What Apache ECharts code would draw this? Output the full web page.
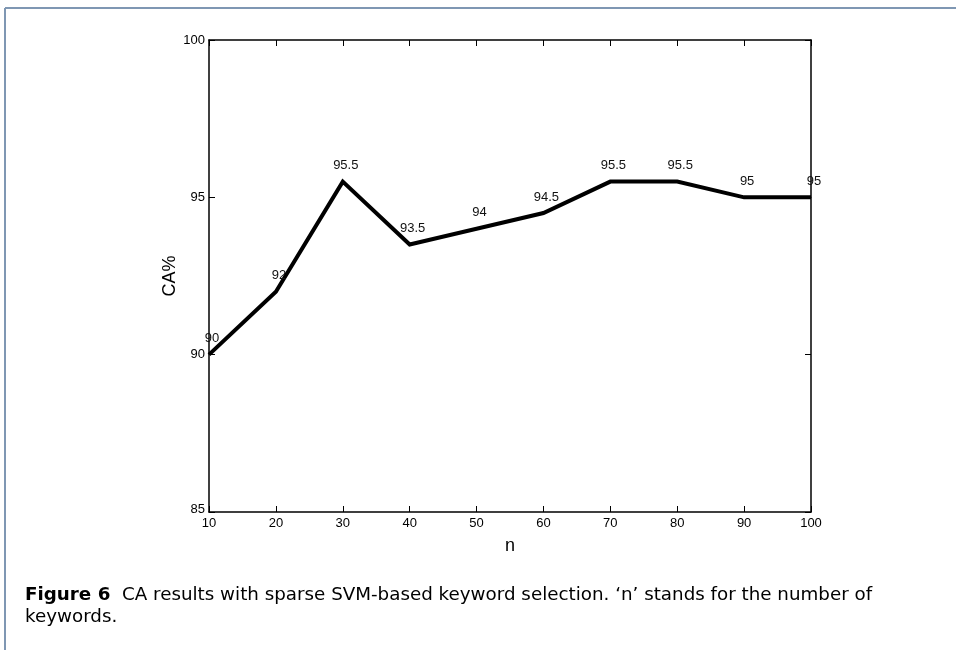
<!DOCTYPE html>
<html><head><meta charset="utf-8">
<script src="https://cdn.jsdelivr.net/npm/echarts@6/dist/echarts.min.js"></script>
<style>html,body{margin:0;padding:0;background:#fff}#c{width:956px;height:650px}</style>
</head><body><div id="c"></div>
<script>
const nValues = [10, 20, 30, 40, 50, 60, 70, 80, 90, 100];
const caValues = [90, 92, 95.5, 93.5, 94, 94.5, 95.5, 95.5, 95, 95];
const xTicks = [10, 20, 30, 40, 50, 60, 70, 80, 90, 100];
const yTicks = [85, 90, 95, 100];

const chart = echarts.init(document.getElementById('c'), null, {renderer: 'canvas'});
const font = '"Liberation Sans", Arial, sans-serif';
const capFont = '"DejaVu Sans", sans-serif';
const axisCommon = {
  axisLine: {show: true, lineStyle: {color: '#000', width: 1.5}},
  axisTick: {show: true, inside: true, length: 6, lineStyle: {color: '#000', width: 1}},
  splitLine: {show: false}
};
chart.setOption({
  animation: false,
  grid: {left: 209, right: 145, top: 40, bottom: 138, show: false},
  xAxis: [
    Object.assign({type: 'value', min: xTicks[0], max: xTicks[xTicks.length-1], interval: 10, position: 'bottom',
      name: 'n', nameLocation: 'middle', nameGap: 25, nameMoveOverlap: false,
      nameTextStyle: {fontFamily: font, fontSize: 18, color: '#000'},
      axisLabel: {fontFamily: font, fontSize: 13, color: '#000', margin: 5}}, axisCommon),
    Object.assign({type: 'value', min: xTicks[0], max: xTicks[xTicks.length-1], interval: 10, position: 'top',
      axisLabel: {show: false}}, axisCommon)
  ],
  yAxis: [
    Object.assign({type: 'value', min: yTicks[0], max: yTicks[yTicks.length-1], interval: 5, position: 'left',
      name: 'CA%', nameLocation: 'middle', nameGap: 30, nameRotate: 90, nameMoveOverlap: false,
      nameTextStyle: {fontFamily: font, fontSize: 18, color: '#000'},
      axisLabel: {fontFamily: font, fontSize: 13, color: '#000', margin: 4,
        formatter: v => v === 85 ? '{lo|85}' : String(v),
        rich: {lo: {fontFamily: font, fontSize: 13, color: '#000', padding: [0, 0, 6, 0]}}}}, axisCommon),
    Object.assign({type: 'value', min: yTicks[0], max: yTicks[yTicks.length-1], interval: 5, position: 'right',
      axisLabel: {show: false}}, axisCommon)
  ],
  series: [{
    type: 'line',
    xAxisIndex: 0, yAxisIndex: 0,
    data: nValues.map((n, i) => [n, caValues[i]]),
    symbol: 'circle', symbolSize: 1, showSymbol: true,
    itemStyle: {color: '#000'},
    lineStyle: {color: '#000', width: 4, join: 'miter'},
    label: {show: true, position: 'top', distance: 9, offset: [3, 0],
      fontFamily: font, fontSize: 13, color: '#111',
      formatter: p => String(p.value[1])},
    z: 3
  }],
  graphic: [
    {type: 'line', shape: {x1: 5, y1: 8, x2: 956, y2: 8}, style: {stroke: '#7f97b3', lineWidth: 2}},
    {type: 'line', shape: {x1: 5, y1: 8, x2: 5, y2: 650}, style: {stroke: '#7f97b3', lineWidth: 2}},
    {type: 'text', left: 25, top: 584, style: {
      rich: {b: {fontWeight: 'bold', fontFamily: capFont, fontSize: 18.3, fill: '#000'},
             r: {fontFamily: capFont, fontSize: 18.3, fill: '#000'}},
      text: '{b|Figure 6}{r|  CA results with sparse SVM-based keyword selection. \u2018n\u2019 stands for the number of}\n{r|keywords.}',
      lineHeight: 22, fill: '#000', fontSize: 18.3, fontFamily: capFont}}
  ]
});
</script></body></html>
